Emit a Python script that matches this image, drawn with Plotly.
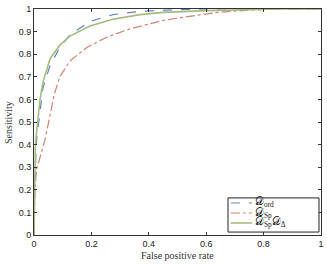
import plotly.graph_objects as go

fpr_ord = [0, 0.003, 0.009, 0.021, 0.031, 0.056, 0.09, 0.125, 0.195, 0.275, 0.37, 0.5, 0.6, 1.0]
sens_ord = [0, 0.25, 0.42, 0.55, 0.65, 0.75, 0.83, 0.885, 0.945, 0.975, 0.99, 0.997, 1.0, 1.0]

fpr_sp = [0, 0.003, 0.009, 0.02, 0.038, 0.056, 0.07, 0.09, 0.125, 0.184, 0.253, 0.334, 0.45, 0.567, 0.64, 0.75, 0.85, 1.0]
sens_sp = [0, 0.2, 0.29, 0.34, 0.42, 0.53, 0.62, 0.7, 0.77, 0.83, 0.875, 0.912, 0.95, 0.972, 0.985, 0.995, 1.0, 1.0]

fpr_spd = [0, 0.002, 0.005, 0.011, 0.021, 0.032, 0.045, 0.056, 0.09, 0.125, 0.195, 0.275, 0.37, 0.45, 0.6, 0.75, 0.85, 1.0]
sens_spd = [0, 0.25, 0.4, 0.48, 0.6, 0.68, 0.74, 0.78, 0.84, 0.88, 0.925, 0.955, 0.975, 0.985, 0.993, 0.998, 1.0, 1.0]

names = ["𝒟<sub>ord</sub>", "𝒟<sub>Sp</sub>", "𝒟<sub>Sp</sub>𝒟<sub>Δ</sub>"]
colors = ["#6384c4", "#d3806f", "#a3bb80"]
dashes = ["dash", "dashdot", "solid"]
widths = [1.2, 1.2, 1.6]

xs = [fpr_ord, fpr_sp, fpr_spd]
ys = [sens_ord, sens_sp, sens_spd]

fig = go.Figure()
for x, y, n, c, d, w in zip(xs, ys, names, colors, dashes, widths):
    fig.add_trace(go.Scatter(x=x, y=y, mode="lines", name=n, showlegend=False,
                             line=dict(color=c, width=w, dash=d)))

axis_common = dict(showgrid=False, zeroline=False, showline=True, linecolor="#333333",
                   linewidth=1, mirror="ticks", ticks="inside", ticklen=3,
                   tickcolor="#333333", automargin=False,
                   tickfont=dict(family="Liberation Sans", size=9, color="#222222"))

# custom compact legend (paper coords)
lx0, lx1, ly0, ly1 = 0.676, 0.993, 0.013, 0.164
row_y = [0.1416, 0.0973, 0.0531]
shapes = [dict(type="rect", xref="paper", yref="paper", x0=lx0, x1=lx1, y0=ly0, y1=ly1,
               line=dict(color="#222222", width=1), fillcolor="white", layer="above")]
annotations = []
for ry, n, c, d, w in zip(row_y, names, colors, dashes, widths):
    shapes.append(dict(type="line", xref="paper", yref="paper", x0=0.686, x1=0.760,
                       y0=ry, y1=ry, line=dict(color=c, width=w, dash=d), layer="above"))
    annotations.append(dict(xref="paper", yref="paper", x=0.763, y=ry, text=n,
                            showarrow=False, xanchor="left", yanchor="middle",
                            font=dict(family="Liberation Serif", size=10.5, color="#222222")))

annotations.append(dict(xref="paper", yref="paper", x=0.5, y=-0.0885, text="False positive rate",
                        showarrow=False, xanchor="center", yanchor="middle",
                        font=dict(family="Liberation Serif", size=10, color="#333333")))
annotations.append(dict(xref="paper", yref="paper", x=-0.0906, y=0.5, text="Sensitivity",
                        showarrow=False, xanchor="center", yanchor="middle", textangle=-90,
                        font=dict(family="Liberation Serif", size=10, color="#333333")))

fig.update_layout(
    width=327, height=264,
    margin=dict(l=34, r=6, t=9, b=29, autoexpand=False),
    paper_bgcolor="white", plot_bgcolor="white",
    showlegend=False,
    xaxis=dict(range=[0, 1], tickvals=[0, 0.2, 0.4, 0.6, 0.8, 1],
               ticktext=["0", "0.2", "0.4", "0.6", "0.8", "1"], **axis_common),
    yaxis=dict(range=[0, 1], tickvals=[i / 10 for i in range(11)],
               ticktext=["0", "0.1", "0.2", "0.3", "0.4", "0.5", "0.6", "0.7", "0.8", "0.9", "1"],
               **axis_common),
    shapes=shapes,
    annotations=annotations,
)

fig.write_html("out.html", config={"displayModeBar": False},
               post_script="document.body.style.margin='0';document.body.style.overflow='hidden';")
